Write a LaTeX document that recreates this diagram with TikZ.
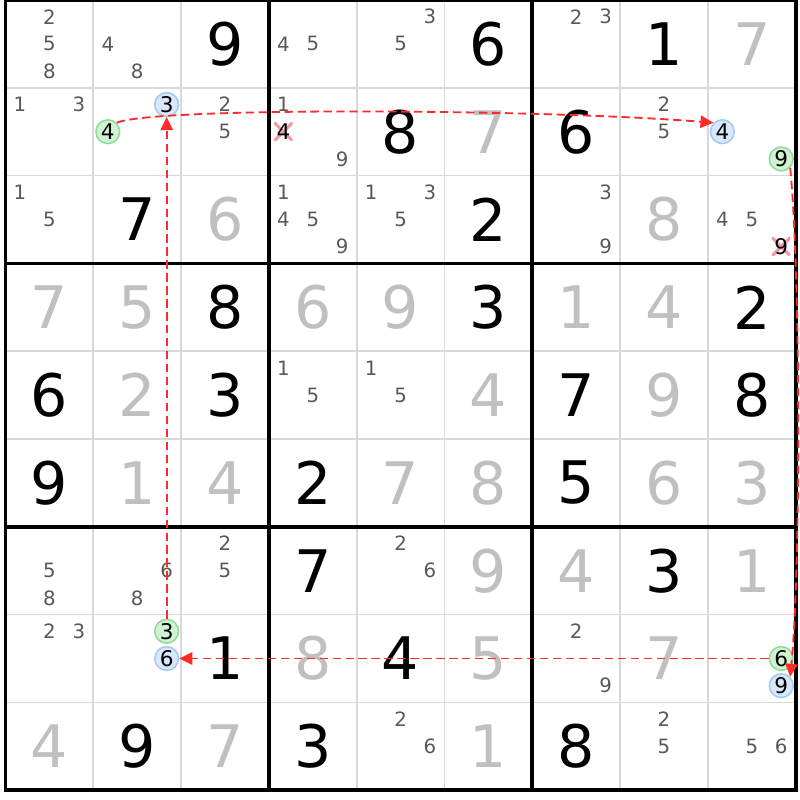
\documentclass[tikz,border=0pt]{standalone}
\usepackage{fontspec}
\setmainfont{DejaVu Sans}
\usetikzlibrary{arrows.meta}
\definecolor{candgray}{HTML}{585858}
\definecolor{solvedgray}{HTML}{C0C0C0}
\definecolor{gridgray}{HTML}{D8D8D8}
\definecolor{chainred}{HTML}{FF2A2A}
\definecolor{xpink}{HTML}{F29AA6}
\definecolor{greenfill}{HTML}{D2F3D2}
\definecolor{greenline}{HTML}{8EDC9A}
\definecolor{bluefill}{HTML}{D8E8FA}
\definecolor{blueline}{HTML}{A4CAF2}
\tikzset{
	thinline/.style={draw=gridgray,line width=1.1pt},
	boxline/.style={draw=black,line width=2.4pt,line cap=rect},
	given/.style={font=\fontsize{38}{40}\selectfont,text=black},
	solved/.style={font=\fontsize{38}{40}\selectfont,text=solvedgray},
	cand/.style={font=\fontsize{12.8}{14}\selectfont,text=candgray,inner sep=0pt},
	greencand/.style={cand,font=\fontsize{14}{16}\selectfont,text=black,circle,minimum size=15.4pt,fill=greenfill,draw=greenline,line width=1pt},
	bluecand/.style={cand,font=\fontsize{14}{16}\selectfont,text=black,circle,minimum size=15.4pt,fill=bluefill,draw=blueline,line width=1pt},
	elim/.style={cand,font=\fontsize{14}{16}\selectfont,text=black,minimum size=12pt,path picture={\draw[xpink,line width=2pt] (path picture bounding box.south west) -- (path picture bounding box.north east) (path picture bounding box.north west) -- (path picture bounding box.south east);}},
	chainarrow/.style={draw=chainred,line width=1.2pt,dash pattern=on 5.4pt off 3pt,-{Triangle[length=8.4pt,width=8pt]}}
}
\begin{document}
\begin{tikzpicture}[x=2cm,y=-2cm]
	\useasboundingbox (-0.063,0) rectangle (9.049,9.112);
	\foreach \i in {1,...,8}
		\draw[thinline] (\i,0) -- (\i,9) (0,\i) -- (9,\i);
	\foreach \i in {0,3,6,9}
		\draw[boxline] (\i,0) -- (\i,9) (0,\i) -- (9,\i);
	\foreach \r/\c/\d in {1/3/9,1/6/6,1/8/1,2/5/8,2/7/6,3/2/7,3/6/2,4/3/8,4/6/3,4/9/2,5/1/6,5/3/3,5/7/7,5/9/8,6/1/9,6/4/2,6/7/5,7/4/7,7/8/3,8/3/1,8/5/4,9/2/9,9/4/3,9/7/8}
		\node[given] (v\r\c) at (\c-0.5,\r-0.5) {\d};
	\foreach \r/\c/\d in {1/9/7,2/6/7,3/3/6,3/8/8,4/1/7,4/2/5,4/4/6,4/5/9,4/7/1,4/8/4,5/2/2,5/6/4,5/8/9,6/2/1,6/3/4,6/5/7,6/6/8,6/8/6,6/9/3,7/6/9,7/7/4,7/9/1,8/4/8,8/6/5,8/8/7,9/1/4,9/3/7,9/6/1}
		\node[solved] (v\r\c) at (\c-0.5,\r-0.5) {\d};
	\foreach \r/\c/\d in {1/1/2,1/1/5,1/1/8,1/2/4,1/2/8,1/4/4,1/4/5,1/5/3,1/5/5,1/7/2,1/7/3,
		2/1/1,2/1/3,2/3/2,2/3/5,2/4/1,2/4/9,2/8/2,2/8/5,
		3/1/1,3/1/5,3/4/1,3/4/4,3/4/5,3/4/9,3/5/1,3/5/3,3/5/5,3/7/3,3/7/9,3/9/4,3/9/5,
		5/4/1,5/4/5,5/5/1,5/5/5,
		7/1/5,7/1/8,7/2/6,7/2/8,7/3/2,7/3/5,7/5/2,7/5/6,
		8/1/2,8/1/3,8/7/2,8/7/9,
		9/5/2,9/5/6,9/8/2,9/8/5,9/9/5,9/9/6}{
		\pgfmathsetmacro\candx{\c-0.5+0.335*(mod(\d-1,3)-1)}
		\pgfmathsetmacro\candy{\r-0.5+0.31*(floor((\d-1)/3)-1)}
		\node[cand] (n\r\c\d) at (\candx,\candy) {\d};
	}
	\foreach \r/\c/\d/\s in {2/4/4/elim,3/9/9/elim,2/2/4/greencand,2/9/9/greencand,8/2/3/greencand,8/9/6/greencand,2/2/3/bluecand,2/9/4/bluecand,8/2/6/bluecand,8/9/9/bluecand}{
		\pgfmathsetmacro\candx{\c-0.5+0.335*(mod(\d-1,3)-1)}
		\pgfmathsetmacro\candy{\r-0.5+0.31*(floor((\d-1)/3)-1)}
		\node[\s] (n\r\c\d) at (\candx,\candy) {\d};
	}
	\draw[chainarrow] (n224.north east) .. controls +(0.4,-0.18) and +(-2,-0.16) .. (n294.north west);
	\draw[chainarrow] (n299.south east) .. controls +(0.12,1.2) and +(0.12,-1.2) .. (n899.north east);
	\draw[chainarrow] (n896.west) -- (n826.east);
	\draw[chainarrow] (n823.north) -- (n223.south);
\end{tikzpicture}
\end{document}
